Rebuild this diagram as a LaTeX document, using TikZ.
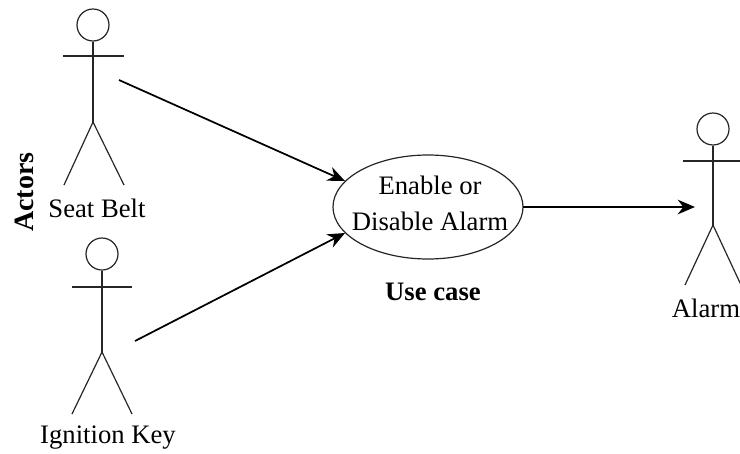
\documentclass[tikz,border=0pt]{standalone}
\usepackage{fontspec}
\setmainfont{Liberation Serif}
\usetikzlibrary{arrows.meta}
\tikzset{
  px/.style={x=0.75pt,y=-0.75pt},
  limb/.style={draw=black!85,line width=0.9pt},
  link/.style={draw=black,line width=1.3pt,-{Stealth[length=13pt,width=11pt]}},
  lbl/.style={font=\fontsize{20}{23}\selectfont,inner sep=0pt,align=center},
  boldlbl/.style={lbl,font=\fontsize{20}{24}\selectfont\bfseries}
}
\begin{document}
\begin{tikzpicture}[px]
\useasboundingbox (0,0) rectangle (740,454);
% first actor
\node[circle,limb,minimum size=24pt,inner sep=0pt] (h1) at (93,25) {};
\coordinate (n1) at (93,122);
\coordinate (a1) at (63,56);
\coordinate (b1) at (124,56);
\coordinate (f1) at (64,185);
\coordinate (g1) at (124,185);
\draw[limb] (h1) -- (n1);
\draw[limb] (a1) -- (b1);
\draw[limb] (f1) -- (n1) -- (g1);
\node[lbl] (t1) at (97,208) {Seat Belt};
% second actor
\node[circle,limb,minimum size=24pt,inner sep=0pt] (h2) at (102,254) {};
\coordinate (n2) at (102,352);
\coordinate (a2) at (72,287);
\coordinate (b2) at (132,287);
\coordinate (f2) at (72,414);
\coordinate (g2) at (132,414);
\draw[limb] (h2) -- (n2);
\draw[limb] (a2) -- (b2);
\draw[limb] (f2) -- (n2) -- (g2);
\node[lbl] (t2) at (108,438) {Ignition Key};
% third actor
\node[circle,limb,minimum size=24pt,inner sep=0pt] (h3) at (713,129) {};
\coordinate (n3) at (713,225);
\coordinate (a3) at (683,161);
\coordinate (b3) at (740,161);
\coordinate (f3) at (685,285);
\coordinate (g3) at (741,285);
\draw[limb] (h3) -- (n3);
\draw[limb] (a3) -- (b3);
\draw[limb] (f3) -- (n3) -- (g3);
\node[lbl] (t3) at (706,308) {Alarm};
% use case
\draw[limb] (428,207) ellipse [x radius=95,y radius=52];
\node[lbl] (e1) at (430,203) {Enable or\\[4pt]Disable Alarm};
\node[boldlbl] (u1) at (433,292) {Use case};
\node[boldlbl,rotate=90,font=\fontsize{21}{24}\selectfont\bfseries] (act) at (24,192) {Actors};
\coordinate (s1) at (119,80);
\coordinate (e2) at (345,181);
\coordinate (s2) at (135,341);
\coordinate (e3) at (345,233);
\coordinate (s3) at (523,207);
\coordinate (e4) at (695,207);
\draw[link] (s1) -- (e2);
\draw[link] (s2) -- (e3);
\draw[link] (s3) -- (e4);
\end{tikzpicture}
\end{document}
